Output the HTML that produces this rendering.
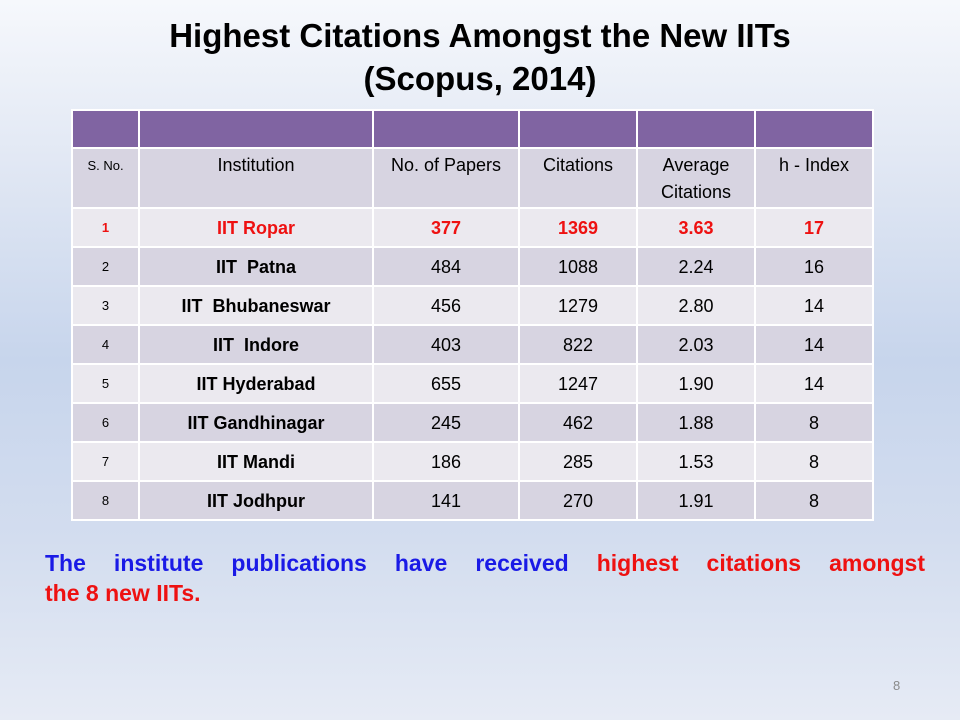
<!DOCTYPE html>
<html><head><meta charset="utf-8"><style>
body{margin:0;width:960px;height:720px;overflow:hidden;font-family:"Liberation Sans",sans-serif;}
#slide{position:relative;width:960px;height:720px;background:linear-gradient(180deg,#f6f8fc 0%,#dfe6f3 25%,#c7d5ec 50%,#d3ddef 75%,#e6ebf5 100%);}
h1{position:absolute;top:14px;left:0;width:960px;margin:0;text-align:center;font-size:33px;line-height:43px;font-weight:bold;color:#000;}
table{position:absolute;left:71px;top:109px;border-collapse:collapse;font-family:"Liberation Sans",sans-serif;}
td{border:2px solid #fff;text-align:center;padding:0;font-size:18px;color:#000;box-sizing:border-box;}
tr.ph td{background:#8064a2;height:38px;}
tr.hd td{background:#d7d4e1;height:60px;vertical-align:top;padding-top:3px;font-size:18px;line-height:27px;}
tr.hd td.sn{font-size:13px;}
tr.r td{height:39px;line-height:20px;}
tr.r:nth-child(odd) td{background:#ebe9ef;}
tr.r:nth-child(even) td{background:#d7d4e1;}
td.sn{font-size:13px;}
td.inst{font-weight:bold;}
tr.red td{color:#ee1111;font-weight:bold;}
#note{position:absolute;left:45px;top:548px;width:880px;font-size:23px;font-weight:bold;line-height:30px;color:#1a1ae6;}
#note div{text-align:justify;text-align-last:justify;}
#note span{color:#ee1111;}
#pg{position:absolute;left:893px;top:678px;font-size:13px;color:#8a8a8a;}
</style></head><body>
<div id="slide">
<h1>Highest Citations Amongst the New IITs<br>(Scopus, 2014)</h1>
<table>
<colgroup><col style="width:67px"><col style="width:234px"><col style="width:146px"><col style="width:118px"><col style="width:118px"><col style="width:118px"></colgroup>
<tr class="ph"><td></td><td></td><td></td><td></td><td></td><td></td></tr>
<tr class="hd"><td class="sn">S. No.</td><td>Institution</td><td>No. of Papers</td><td>Citations</td><td>Average<br>Citations</td><td>h - Index</td></tr>
<tr class="r red"><td class="sn">1</td><td class="inst">IIT Ropar</td><td>377</td><td>1369</td><td>3.63</td><td>17</td></tr>
<tr class="r"><td class="sn">2</td><td class="inst">IIT&nbsp; Patna</td><td>484</td><td>1088</td><td>2.24</td><td>16</td></tr>
<tr class="r"><td class="sn">3</td><td class="inst">IIT&nbsp; Bhubaneswar</td><td>456</td><td>1279</td><td>2.80</td><td>14</td></tr>
<tr class="r"><td class="sn">4</td><td class="inst">IIT&nbsp; Indore</td><td>403</td><td>822</td><td>2.03</td><td>14</td></tr>
<tr class="r"><td class="sn">5</td><td class="inst">IIT Hyderabad</td><td>655</td><td>1247</td><td>1.90</td><td>14</td></tr>
<tr class="r"><td class="sn">6</td><td class="inst">IIT Gandhinagar</td><td>245</td><td>462</td><td>1.88</td><td>8</td></tr>
<tr class="r"><td class="sn">7</td><td class="inst">IIT Mandi</td><td>186</td><td>285</td><td>1.53</td><td>8</td></tr>
<tr class="r"><td class="sn">8</td><td class="inst">IIT Jodhpur</td><td>141</td><td>270</td><td>1.91</td><td>8</td></tr>
</table>
<div id="note"><div>The institute publications have received <span>highest citations amongst</span></div><span>the 8 new IITs.</span></div>
<div id="pg">8</div>
</div>
</body></html>
